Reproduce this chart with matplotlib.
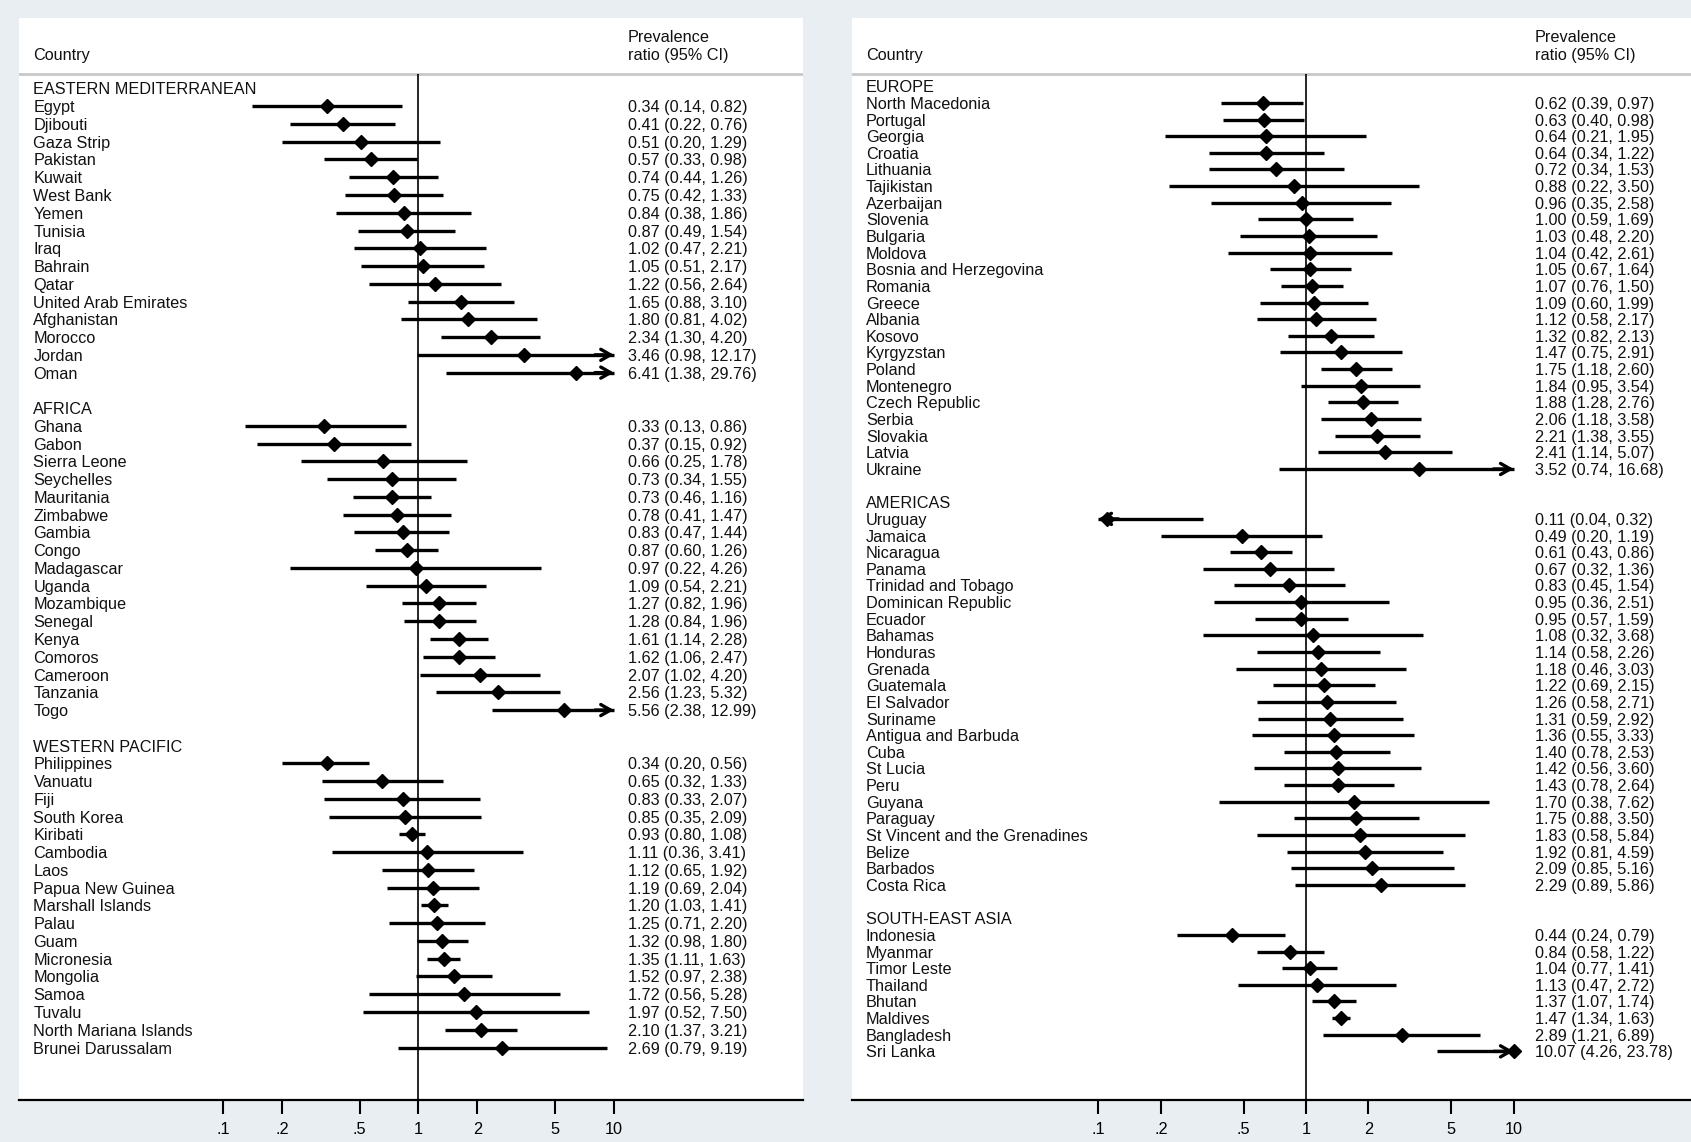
import matplotlib
matplotlib.use("Agg")
import matplotlib.pyplot as plt

plt.rcParams["font.family"] = ["Liberation Sans", "DejaVu Sans"]

# ---- data: prevalence ratio (95% CI) by country ----
em_names = ["Egypt", "Djibouti", "Gaza Strip", "Pakistan", "Kuwait", "West Bank", "Yemen",
            "Tunisia", "Iraq", "Bahrain", "Qatar", "United Arab Emirates", "Afghanistan",
            "Morocco", "Jordan", "Oman"]
em_pr = [0.34, 0.41, 0.51, 0.57, 0.74, 0.75, 0.84, 0.87, 1.02, 1.05, 1.22, 1.65, 1.80, 2.34, 3.46, 6.41]
em_lo = [0.14, 0.22, 0.20, 0.33, 0.44, 0.42, 0.38, 0.49, 0.47, 0.51, 0.56, 0.88, 0.81, 1.30, 0.98, 1.38]
em_hi = [0.82, 0.76, 1.29, 0.98, 1.26, 1.33, 1.86, 1.54, 2.21, 2.17, 2.64, 3.10, 4.02, 4.20, 12.17, 29.76]

af_names = ["Ghana", "Gabon", "Sierra Leone", "Seychelles", "Mauritania", "Zimbabwe", "Gambia",
            "Congo", "Madagascar", "Uganda", "Mozambique", "Senegal", "Kenya", "Comoros",
            "Cameroon", "Tanzania", "Togo"]
af_pr = [0.33, 0.37, 0.66, 0.73, 0.73, 0.78, 0.83, 0.87, 0.97, 1.09, 1.27, 1.28, 1.61, 1.62, 2.07, 2.56, 5.56]
af_lo = [0.13, 0.15, 0.25, 0.34, 0.46, 0.41, 0.47, 0.60, 0.22, 0.54, 0.82, 0.84, 1.14, 1.06, 1.02, 1.23, 2.38]
af_hi = [0.86, 0.92, 1.78, 1.55, 1.16, 1.47, 1.44, 1.26, 4.26, 2.21, 1.96, 1.96, 2.28, 2.47, 4.20, 5.32, 12.99]

wp_names = ["Philippines", "Vanuatu", "Fiji", "South Korea", "Kiribati", "Cambodia", "Laos",
            "Papua New Guinea", "Marshall Islands", "Palau", "Guam", "Micronesia", "Mongolia",
            "Samoa", "Tuvalu", "North Mariana Islands", "Brunei Darussalam"]
wp_pr = [0.34, 0.65, 0.83, 0.85, 0.93, 1.11, 1.12, 1.19, 1.20, 1.25, 1.32, 1.35, 1.52, 1.72, 1.97, 2.10, 2.69]
wp_lo = [0.20, 0.32, 0.33, 0.35, 0.80, 0.36, 0.65, 0.69, 1.03, 0.71, 0.98, 1.11, 0.97, 0.56, 0.52, 1.37, 0.79]
wp_hi = [0.56, 1.33, 2.07, 2.09, 1.08, 3.41, 1.92, 2.04, 1.41, 2.20, 1.80, 1.63, 2.38, 5.28, 7.50, 3.21, 9.19]

eu_names = ["North Macedonia", "Portugal", "Georgia", "Croatia", "Lithuania", "Tajikistan",
            "Azerbaijan", "Slovenia", "Bulgaria", "Moldova", "Bosnia and Herzegovina", "Romania",
            "Greece", "Albania", "Kosovo", "Kyrgyzstan", "Poland", "Montenegro", "Czech Republic",
            "Serbia", "Slovakia", "Latvia", "Ukraine"]
eu_pr = [0.62, 0.63, 0.64, 0.64, 0.72, 0.88, 0.96, 1.00, 1.03, 1.04, 1.05, 1.07, 1.09, 1.12,
         1.32, 1.47, 1.75, 1.84, 1.88, 2.06, 2.21, 2.41, 3.52]
eu_lo = [0.39, 0.40, 0.21, 0.34, 0.34, 0.22, 0.35, 0.59, 0.48, 0.42, 0.67, 0.76, 0.60, 0.58,
         0.82, 0.75, 1.18, 0.95, 1.28, 1.18, 1.38, 1.14, 0.74]
eu_hi = [0.97, 0.98, 1.95, 1.22, 1.53, 3.50, 2.58, 1.69, 2.20, 2.61, 1.64, 1.50, 1.99, 2.17,
         2.13, 2.91, 2.60, 3.54, 2.76, 3.58, 3.55, 5.07, 16.68]

am_names = ["Uruguay", "Jamaica", "Nicaragua", "Panama", "Trinidad and Tobago",
            "Dominican Republic", "Ecuador", "Bahamas", "Honduras", "Grenada", "Guatemala",
            "El Salvador", "Suriname", "Antigua and Barbuda", "Cuba", "St Lucia", "Peru", "Guyana",
            "Paraguay", "St Vincent and the Grenadines", "Belize", "Barbados", "Costa Rica"]
am_pr = [0.11, 0.49, 0.61, 0.67, 0.83, 0.95, 0.95, 1.08, 1.14, 1.18, 1.22, 1.26, 1.31, 1.36,
         1.40, 1.42, 1.43, 1.70, 1.75, 1.83, 1.92, 2.09, 2.29]
am_lo = [0.04, 0.20, 0.43, 0.32, 0.45, 0.36, 0.57, 0.32, 0.58, 0.46, 0.69, 0.58, 0.59, 0.55,
         0.78, 0.56, 0.78, 0.38, 0.88, 0.58, 0.81, 0.85, 0.89]
am_hi = [0.32, 1.19, 0.86, 1.36, 1.54, 2.51, 1.59, 3.68, 2.26, 3.03, 2.15, 2.71, 2.92, 3.33,
         2.53, 3.60, 2.64, 7.62, 3.50, 5.84, 4.59, 5.16, 5.86]

sea_names = ["Indonesia", "Myanmar", "Timor Leste", "Thailand", "Bhutan", "Maldives",
             "Bangladesh", "Sri Lanka"]
sea_pr = [0.44, 0.84, 1.04, 1.13, 1.37, 1.47, 2.89, 10.07]
sea_lo = [0.24, 0.58, 0.77, 0.47, 1.07, 1.34, 1.21, 4.26]
sea_hi = [0.79, 1.22, 1.41, 2.72, 1.74, 1.63, 6.89, 23.78]

xticks = [0.1, 0.2, 0.5, 1, 2, 5, 10]
xtick_labels = [".1", ".2", ".5", "1", "2", "5", "10"]
xmin_plot, xmax_plot = 0.1, 10

# layout measured on the reference (in a 1568 x 1059 grid)
W, H = 1568.0, 1059.0
TOP, AXIS = 17.0, 1020.0
FS = 11.7
BG = "#e8eef1"


def draw_panel(fig, x0, x1, one_px, decade_px, row0_px, step_px, ci_px, groups):
    ax = fig.add_axes([x0 / W, 1 - AXIS / H, (x1 - x0) / W, (AXIS - TOP) / H])
    ax.set_facecolor("white")
    ax.set_xscale("log")
    ax.set_xlim(10 ** ((x0 - one_px) / decade_px), 10 ** ((x1 - one_px) / decade_px))

    def to_row(px):
        return (px - row0_px) / step_px

    ax.set_ylim(to_row(AXIS), to_row(TOP))
    trans = ax.get_yaxis_transform()
    lab_x = 13.0 / (x1 - x0)
    ci_x = (ci_px - x0) / (x1 - x0)
    txt = dict(transform=trans, va="center_baseline", ha="left", fontsize=FS, color="#111111")

    # header
    ax.text(lab_x, to_row(50), "Country", **txt)
    ax.text(ci_x, to_row(33), "Prevalence", **txt)
    ax.text(ci_x, to_row(50), "ratio (95% CI)", **txt)
    ax.axhline(to_row(69), color="#c8c8c8", lw=2)
    ax.vlines(1, to_row(69), to_row(AXIS), color="black", lw=1.2)

    arrow = dict(arrowstyle="->,head_length=0.35,head_width=0.2", color="black",
                 lw=2.4, shrinkA=0, shrinkB=0, mutation_scale=20)
    row = 0
    for title, names, pr, lo, hi in groups:
        ax.text(lab_x, row, title, **txt)
        row += 1
        for name, p, l, h in zip(names, pr, lo, hi):
            ax.text(lab_x, row, name, **txt)
            ax.text(ci_x, row, f"{p:.2f} ({l:.2f}, {h:.2f})", **txt)
            l_c = max(l, xmin_plot)
            h_c = min(h, xmax_plot)
            ax.plot([l_c, h_c], [row, row], color="black", lw=2.4, solid_capstyle="butt")
            if h > xmax_plot:
                ax.annotate("", xy=(xmax_plot, row), xytext=(h_c * 0.8, row), arrowprops=arrow)
            if l < xmin_plot:
                ax.annotate("", xy=(xmin_plot, row), xytext=(l_c * 1.25, row), arrowprops=arrow)
            ax.plot(p, row, marker="D", ms=7.5, color="black", zorder=5)
            row += 1
        row += 1

    for side in ["top", "left", "right"]:
        ax.spines[side].set_visible(False)
    ax.spines["bottom"].set_linewidth(1.6)
    ax.set_yticks([])
    ax.set_xticks(xticks)
    ax.set_xticklabels(xtick_labels)
    ax.minorticks_off()
    ax.tick_params(axis="x", length=10, width=1.5, pad=6, labelsize=FS)
    return ax


fig = plt.figure(figsize=(16.91, 11.42), dpi=100)
fig.patch.set_facecolor(BG)

left_groups = [
    ("EASTERN MEDITERRANEAN", em_names, em_pr, em_lo, em_hi),
    ("AFRICA", af_names, af_pr, af_lo, af_hi),
    ("WESTERN PACIFIC", wp_names, wp_pr, wp_lo, wp_hi),
]
right_groups = [
    ("EUROPE", eu_names, eu_pr, eu_lo, eu_hi),
    ("AMERICAS", am_names, am_pr, am_lo, am_hi),
    ("SOUTH-EAST ASIA", sea_names, sea_pr, sea_lo, sea_hi),
]

draw_panel(fig, 18, 745, 388, 181.2, 82, 16.47, 582, left_groups)
draw_panel(fig, 790, 1568, 1211, 192.5, 80, 15.43, 1423, right_groups)

fig.savefig("out.png", dpi=100, facecolor=BG)
